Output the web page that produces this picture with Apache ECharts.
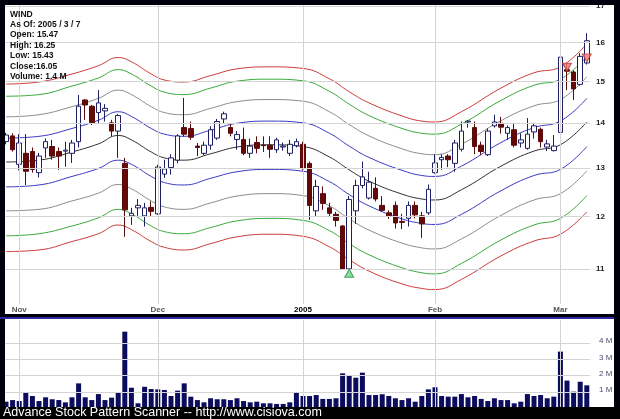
<!DOCTYPE html>
<html>
<head>
<meta charset="utf-8">
<script src="https://cdn.jsdelivr.net/npm/echarts/dist/echarts.min.js"></script>
<style>
  html, body { margin: 0; padding: 0; background: #00000c; }
  #chart { width: 620px; height: 419px; }
</style>
</head>
<body>
<div id="chart"></div>
<script>
// ---- data ----
const ticker = 'WIND';
const asOf = '2005 / 3 / 7';

const dates = [
  '2004-10-28','2004-10-29',
  '2004-11-01','2004-11-02','2004-11-03','2004-11-04','2004-11-05',
  '2004-11-08','2004-11-09','2004-11-10','2004-11-11','2004-11-12',
  '2004-11-15','2004-11-16','2004-11-17','2004-11-18','2004-11-19',
  '2004-11-22','2004-11-23','2004-11-24','2004-11-26',
  '2004-11-29','2004-11-30',
  '2004-12-01','2004-12-02','2004-12-03',
  '2004-12-06','2004-12-07','2004-12-08','2004-12-09','2004-12-10',
  '2004-12-13','2004-12-14','2004-12-15','2004-12-16','2004-12-17',
  '2004-12-20','2004-12-21','2004-12-22','2004-12-23',
  '2004-12-27','2004-12-28','2004-12-29','2004-12-30','2004-12-31',
  '2005-01-03','2005-01-04','2005-01-05','2005-01-06','2005-01-07',
  '2005-01-10','2005-01-11','2005-01-12','2005-01-13','2005-01-14',
  '2005-01-18','2005-01-19','2005-01-20','2005-01-21',
  '2005-01-24','2005-01-25','2005-01-26','2005-01-27','2005-01-28',
  '2005-01-31',
  '2005-02-01','2005-02-02','2005-02-03','2005-02-04',
  '2005-02-07','2005-02-08','2005-02-09','2005-02-10','2005-02-11',
  '2005-02-14','2005-02-15','2005-02-16','2005-02-17','2005-02-18',
  '2005-02-22','2005-02-23','2005-02-24','2005-02-25',
  '2005-02-28',
  '2005-03-01','2005-03-02','2005-03-03','2005-03-04',
  '2005-03-07'
];

const open = [
  13.58,13.71,13.08,13.32,13.36,12.90,13.44,13.47,13.36,13.37,
  13.32,13.58,14.55,14.40,14.25,14.29,14.01,13.82,13.10,12.01,
  12.17,12.01,12.18,12.05,12.87,13.01,13.17,13.90,13.88,13.48,
  13.32,13.50,13.66,14.10,13.90,13.63,13.63,13.32,13.56,13.50,
  13.50,13.40,13.46,13.32,13.49,13.52,13.10,12.11,12.46,12.17,
  12.04,11.81,11.00,12.11,12.63,12.37,12.57,12.22,12.07,12.22,
  11.90,11.96,12.22,12.01,12.07,12.90,13.18,13.26,13.10,13.41,
  14.03,13.90,13.50,13.29,13.94,14.00,13.77,13.85,13.55,13.43,
  13.80,13.86,13.46,13.38,13.79,15.30,15.24,14.93,15.47
];
const close = [
  13.73,13.40,13.55,12.93,12.97,13.26,13.58,13.26,13.26,13.39,
  13.55,14.40,14.43,14.01,14.48,14.35,13.82,14.18,12.13,12.06,
  12.22,12.17,12.10,13.02,12.98,13.22,13.71,13.75,13.68,13.45,
  13.50,13.85,14.04,14.22,13.77,13.74,13.32,13.48,13.43,13.49,
  13.41,13.62,13.48,13.52,13.58,12.99,12.22,12.61,12.26,12.06,
  11.92,11.00,12.34,12.63,12.81,12.70,12.35,12.12,12.01,11.87,
  11.88,12.22,12.03,11.85,12.55,13.11,13.23,13.18,13.55,13.82,
  14.05,13.47,13.36,13.82,14.03,13.91,13.90,13.50,13.62,13.75,
  13.94,13.58,13.53,13.48,15.62,15.26,14.82,15.64,16.05
];
const low = [
  13.52,13.36,12.95,12.64,12.90,12.80,13.22,13.18,12.96,13.03,
  13.11,13.45,14.08,13.96,14.00,14.04,13.70,13.22,11.60,11.83,
  12.00,11.80,12.00,12.03,12.79,12.86,13.10,13.70,13.62,13.26,
  13.28,13.40,13.62,14.00,13.70,13.40,13.28,13.22,13.32,13.35,
  13.22,13.33,13.38,13.26,13.45,12.95,11.93,12.00,12.13,11.99,
  11.80,10.99,10.99,11.85,12.57,12.34,12.30,12.09,11.95,11.76,
  11.75,11.80,11.96,11.58,12.03,12.88,12.96,13.02,12.92,13.36,
  13.90,13.30,13.28,13.26,13.90,13.76,13.62,13.45,13.45,13.40,
  13.65,13.45,13.37,13.36,13.55,14.79,14.55,14.90,15.43
];
const high = [
  13.78,13.77,13.75,13.75,13.45,13.33,13.65,13.62,13.45,13.58,
  13.62,14.67,14.57,14.43,14.79,14.45,14.08,14.22,13.22,12.17,
  12.35,12.27,12.30,13.07,13.18,13.30,13.75,14.60,14.04,13.55,
  13.58,13.93,14.10,14.27,14.00,13.82,13.90,13.65,13.70,13.70,
  13.70,13.67,13.56,13.62,13.65,13.58,13.14,12.75,12.61,12.27,
  12.09,11.83,12.41,12.75,13.14,12.92,12.80,12.41,12.12,12.30,
  12.05,12.30,12.30,12.09,12.65,13.30,13.30,13.30,13.62,14.04,
  14.07,14.04,13.58,13.88,14.20,14.15,13.95,14.01,13.77,14.12,
  14.01,13.90,13.62,13.73,15.81,15.45,15.28,15.72,16.25
];
// daily volume, millions of shares
const volume = [
  0.39,0.49,0.43,0.97,0.74,0.43,0.66,0.54,0.49,0.35,
  0.66,1.52,0.66,0.49,0.86,0.49,0.64,0.97,4.71,1.25,
  0.29,1.31,1.17,1.15,1.11,0.74,1.07,1.52,0.70,0.49,
  0.35,0.60,0.54,0.54,0.49,0.60,0.43,0.35,0.39,0.29,
  0.29,0.25,0.25,0.35,0.97,0.74,0.74,0.80,0.56,0.56,
  0.60,2.14,1.98,1.87,2.18,0.80,0.80,0.85,0.74,0.60,
  0.49,0.60,0.39,0.74,1.15,1.28,0.74,0.70,0.70,0.86,
  0.66,0.74,0.56,0.43,0.60,0.49,0.49,0.29,0.39,0.86,
  0.74,0.80,0.60,0.70,3.48,1.69,1.01,1.62,1.40
];

// envelope channel, sampled on these trading-day indices
const bandIdx    = [0,5,10,14,17,19,22,24,27,31,35,40,45,49,52,55,60,63,65,69,75,80,84,88];
const bandMid    = [13.13,13.17,13.35,13.53,13.72,13.62,13.35,13.22,13.17,13.31,13.46,13.51,13.47,13.24,12.96,12.72,12.45,12.35,12.33,12.54,13.04,13.37,13.51,14.03];
const bandBlueHi = [13.66,13.70,13.88,14.07,14.27,14.16,13.88,13.75,13.70,13.84,14.00,14.05,14.01,13.77,13.48,13.23,12.95,12.84,12.82,13.04,13.56,13.90,14.05,14.59];
const bandBlueLo = [12.60,12.64,12.82,12.99,13.17,13.08,12.82,12.69,12.64,12.78,12.92,12.97,12.93,12.71,12.44,12.21,11.95,11.86,11.84,12.04,12.52,12.84,12.97,13.47];
const bandGrayHi = [14.15,14.20,14.39,14.59,14.79,14.68,14.39,14.25,14.20,14.35,14.51,14.56,14.52,14.27,13.97,13.71,13.42,13.31,13.29,13.52,14.06,14.41,14.56,15.12];
const bandGrayLo = [12.11,12.14,12.31,12.47,12.65,12.56,12.31,12.19,12.14,12.27,12.41,12.46,12.42,12.21,11.95,11.73,11.48,11.39,11.37,11.56,12.02,12.33,12.46,12.94];
const bandGreenHi= [14.64,14.68,14.89,15.09,15.30,15.19,14.89,14.74,14.68,14.84,15.01,15.06,15.02,14.76,14.45,14.18,13.88,13.77,13.75,13.98,14.54,14.91,15.06,15.64];
const bandGreenLo= [11.62,11.66,11.81,11.97,12.14,12.05,11.81,11.70,11.66,11.78,11.91,11.96,11.92,11.72,11.47,11.26,11.02,10.93,10.91,11.10,11.54,11.83,11.96,12.42];
const bandRedHi  = [14.94,14.99,15.19,15.40,15.61,15.50,15.19,15.04,14.99,15.15,15.32,15.37,15.33,15.07,14.75,14.48,14.17,14.05,14.03,14.27,14.84,15.22,15.37,15.97];
const bandRedLo  = [11.32,11.35,11.51,11.66,11.83,11.74,11.51,11.40,11.35,11.47,11.60,11.65,11.61,11.41,11.17,10.96,10.73,10.65,10.63,10.81,11.24,11.52,11.65,12.09];

const buySignals  = [['2005-01-12', 10.92]];
const sellSignals = [['2005-03-02', 15.36], ['2005-03-07', 15.60]];

const priceTicks = [11, 12, 13, 14, 15, 16, 17];
const volumeTicks = [1, 2, 3, 4];
const monthTickDates  = ['2004-11-01', '2004-12-01', '2005-01-03', '2005-02-01', '2005-03-01'];
const monthTickLabels = ['Nov', 'Dec', '2005', 'Feb', 'Mar'];

// ---- chart ----
const FONT = '"Liberation Sans", Arial, sans-serif';
const last = dates.length - 1;
const infoLines = [
  ticker,
  'As Of: ' + asOf,
  'Open: ' + open[last].toFixed(2),
  'High: ' + high[last].toFixed(2),
  'Low: ' + low[last].toFixed(2),
  'Close:' + close[last].toFixed(2),
  'Volume: ' + volume[last].toFixed(1) + ' M'
];

const bandDates = bandIdx.map(i => dates[i]);
function bandSeries(name, values, color) {
  return {
    name, type: 'line', xAxisIndex: 0, yAxisIndex: 0,
    data: values.map((v, k) => [bandDates[k], v]),
    smooth: 0.45, showSymbol: false, symbol: 'none', silent: true, z: 2,
    lineStyle: { color, width: 1 }
  };
}

const gridLine = { color: '#d4d4d4', width: 1, type: 'solid' };

const chart = echarts.init(document.getElementById('chart'), null, { renderer: 'canvas' });
chart.setOption({
  animation: false,
  backgroundColor: '#00000c',
  title: {
    text: infoLines.join('\n'),
    left: 10, top: 9, padding: 0, z: 20,
    textStyle: { fontFamily: FONT, fontSize: 8.5, fontWeight: 'bold', color: '#111', lineHeight: 10.45 }
  },
  grid: [
    { left: 2.7, width: 587.4, top: 5, height: 299, outerBoundsMode: 'none', containLabel: false },
    { left: 2.7, width: 587.4, top: 320, height: 88, outerBoundsMode: 'none', containLabel: false }
  ],
  xAxis: [
    {
      type: 'category', gridIndex: 0, data: dates, boundaryGap: true,
      axisLine: { show: false }, axisTick: { show: false }, splitLine: { show: false },
      axisLabel: {
        margin: 2, fontFamily: FONT, fontSize: 8, fontWeight: 'bold', color: '#555',
        interval: (idx, val) => monthTickDates.includes(val),
        formatter: val => {
          const lbl = monthTickLabels[monthTickDates.indexOf(val)];
          return /^\d{4}$/.test(lbl) ? '{yr|' + lbl + '}' : lbl;
        },
        rich: { yr: { fontFamily: FONT, fontSize: 8, fontWeight: 'bold', color: '#000' } }
      }
    },
    {
      type: 'category', gridIndex: 1, data: dates, boundaryGap: true,
      axisLine: { show: false }, axisTick: { show: false }, splitLine: { show: false },
      axisLabel: { show: false }
    }
  ],
  yAxis: [
    {
      type: 'log', logBase: 10, gridIndex: 0, min: 10.379, max: 17.028,
      axisLine: { show: false }, axisTick: { show: false },
      axisLabel: { show: false }, splitLine: { show: false }
    },
    {
      type: 'value', gridIndex: 1, min: 0, max: 5.43,
      axisLine: { show: false }, axisTick: { show: false },
      axisLabel: { show: false }, splitLine: { show: false }
    }
  ],
  series: [
    // price panel grid lines and right-hand labels
    {
      type: 'line', xAxisIndex: 0, yAxisIndex: 0, data: [], z: 1, silent: true,
      markLine: {
        silent: true, symbol: ['none', 'none'], animation: false,
        lineStyle: gridLine,
        label: {
          show: true, position: 'end', distance: 6,
          formatter: p => String(p.value),
          fontFamily: FONT, fontSize: 8, fontWeight: 'bold', color: '#222'
        },
        emphasis: { disabled: true },
        data: priceTicks.map(v => ({ yAxis: v }))
      }
    },
    {
      type: 'line', xAxisIndex: 0, yAxisIndex: 0, data: [], z: 1, silent: true,
      markLine: {
        silent: true, symbol: ['none', 'none'], animation: false,
        lineStyle: gridLine, label: { show: false },
        emphasis: { disabled: true },
        data: monthTickDates.map(d => ({ xAxis: d }))
      }
    },
    // volume panel grid lines and labels
    {
      type: 'line', xAxisIndex: 1, yAxisIndex: 1, data: [], z: 1, silent: true,
      markLine: {
        silent: true, symbol: ['none', 'none'], animation: false,
        lineStyle: gridLine,
        label: {
          show: true, position: 'end', distance: 9, offset: [0, -2],
          formatter: p => p.value + ' M',
          fontFamily: FONT, fontSize: 8, color: '#4a4a70'
        },
        emphasis: { disabled: true },
        data: volumeTicks.map(v => ({ yAxis: v }))
      }
    },
    {
      type: 'line', xAxisIndex: 1, yAxisIndex: 1, data: [], z: 1, silent: true,
      markLine: {
        silent: true, symbol: ['none', 'none'], animation: false,
        lineStyle: gridLine, label: { show: false },
        emphasis: { disabled: true },
        data: monthTickDates.map(d => ({ xAxis: d }))
      }
    },
    bandSeries('red-hi', bandRedHi, '#cc3b3b'),
    bandSeries('green-hi', bandGreenHi, '#3aaa3a'),
    bandSeries('gray-hi', bandGrayHi, '#8c8c8c'),
    bandSeries('blue-hi', bandBlueHi, '#3a3ac4'),
    bandSeries('mid', bandMid, '#303030'),
    bandSeries('blue-lo', bandBlueLo, '#3a3ac4'),
    bandSeries('gray-lo', bandGrayLo, '#8c8c8c'),
    bandSeries('green-lo', bandGreenLo, '#3aaa3a'),
    bandSeries('red-lo', bandRedLo, '#cc3b3b'),
    {
      name: ticker, type: 'candlestick', xAxisIndex: 0, yAxisIndex: 0, z: 3,
      barWidth: 5, silent: true,
      data: dates.map((d, i) => [open[i], close[i], low[i], high[i]]),
      itemStyle: {
        color: '#ffffff', color0: '#640808',
        borderColor: '#1e1e62', borderColor0: '#5a0a0a', borderWidth: 1
      }
    },
    {
      type: 'scatter', xAxisIndex: 0, yAxisIndex: 0, z: 5, silent: true,
      data: buySignals, symbol: 'triangle', symbolSize: [9, 8],
      itemStyle: { color: '#6fd48a', borderColor: '#2f8a47', borderWidth: 1 }
    },
    {
      type: 'scatter', xAxisIndex: 0, yAxisIndex: 0, z: 5, silent: true,
      data: sellSignals, symbol: 'triangle', symbolRotate: 180, symbolSize: [9, 8],
      itemStyle: { color: '#f07272', borderColor: '#b33636', borderWidth: 1 }
    },
    {
      name: 'Volume', type: 'bar', xAxisIndex: 1, yAxisIndex: 1, z: 2,
      barWidth: 5, silent: true, data: volume,
      itemStyle: { color: '#0c0c5e' }
    }
  ],
  graphic: [
    // white panels
    { type: 'rect', z: 0, silent: true, shape: { x: 5, y: 5, width: 609, height: 309 }, style: { fill: '#ffffff' } },
    { type: 'rect', z: 0, silent: true, shape: { x: 5, y: 319, width: 609, height: 88 }, style: { fill: '#ffffff' } },
    // frame
    { type: 'rect', z: 100, silent: true, shape: { x: 0, y: 0, width: 5, height: 419 }, style: { fill: '#00000c' } },
    { type: 'rect', z: 100, silent: true, shape: { x: 0, y: 0, width: 620, height: 5 }, style: { fill: '#00000c' } },
    { type: 'rect', z: 100, silent: true, shape: { x: 614, y: 0, width: 6, height: 419 }, style: { fill: '#00000c' } },
    { type: 'rect', z: 100, silent: true, shape: { x: 0, y: 314, width: 620, height: 5 }, style: { fill: '#00000c' } },
    { type: 'rect', z: 101, silent: true, shape: { x: 0, y: 317, width: 614, height: 2 }, style: { fill: '#2a2a9c' } },
    { type: 'rect', z: 100, silent: true, shape: { x: 0, y: 407, width: 620, height: 12 }, style: { fill: '#000000' } },
    {
      type: 'text', z: 102, silent: true, x: 3, y: 413,
      style: {
        text: 'Advance Stock Pattern Scanner -- http://www.cisiova.com',
        fill: '#ffffff', font: '12.5px "Liberation Sans", Arial, sans-serif',
        verticalAlign: 'middle', textVerticalAlign: 'middle'
      }
    }
  ]
});
</script>
</body>
</html>
